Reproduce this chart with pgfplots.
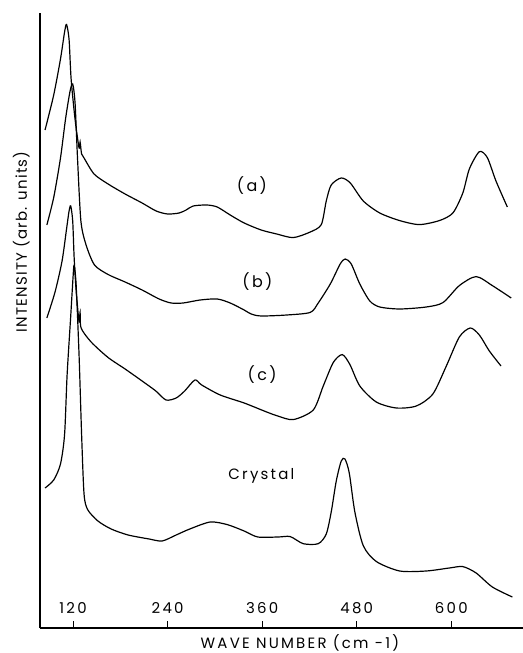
\documentclass[border=0pt]{standalone}
\usepackage{pgfplots}
\pgfplotsset{compat=1.18}
\usepackage{fontspec}
\setmainfont{Poppins}
\newfontfamily\lsfont[LetterSpace=15]{Poppins}
\newfontfamily\lsyfont[LetterSpace=8]{Poppins}
\begin{document}
\begin{tikzpicture}
\begin{axis}[name=ax, scale only axis, width=483bp, height=615bp,
 xmin=78, xmax=691, ymin=0, ymax=615,
 axis x line=bottom, axis y line=left, axis line style={-},
 y axis line style={line width=2.4pt}, x axis line style={line width=1.2pt},
 ytick=\empty, xtick={120,240,360,480,600},
 tick align=inside, major tick length=7bp, xtick style={line width=1pt,black},
 xticklabel style={anchor=south, yshift=11bp, font=\lsfont\fontsize{15}{17}\selectfont},
 /pgf/number format/assume math mode=true,
 clip=false]
% (a)
\addplot[black, line width=1.2pt, smooth, tension=0.45, no markers] coordinates {(84.4,498) (95.4,533) (104.0,569) (109.2,596) (111.7,603.5) (114.9,588.5) (117.5,549) (122.6,508) (127.6,480) (128.9,486) (130.8,474) (133.9,470) (146.6,454) (164.4,444) (186.0,434) (207.6,425) (225.4,417) (240.0,414) (254.6,415) (263.5,418) (272.4,422) (289.6,423) (302.9,421) (319.4,413) (337.1,405) (358.7,398) (378.5,394) (399.4,390.4) (421.0,396) (435.0,403.4) (441.3,427) (447.6,443) (460.3,450) (471.8,445) (488.3,427) (509.2,415) (534.5,407.4) (559.4,403.4) (584.8,407.4) (602.0,415) (614.6,435) (622.9,459) (635.6,476.3) (645.7,470.4) (656.7,447) (671.1,421)};
% (b)
\addplot[black, line width=1.2pt, smooth, tension=0.45, no markers] coordinates {(86.7,403) (95.4,430.5) (104.0,470) (110.5,509.5) (116.2,537) (119.5,544) (122.5,525) (125.6,470) (129.9,407) (136.5,383) (147.2,363) (164.4,353.5) (186.0,346) (207.6,338) (229.2,329) (244.4,325) (259.7,325) (281.3,328) (302.9,329) (319.4,325) (337.1,318) (346.0,314) (358.7,312) (391.3,313) (421.0,315.6) (431.1,325) (446.4,344) (459.0,364) (465.4,369) (473.0,364) (483.9,344) (496.6,327) (509.2,321) (534.5,319) (568.2,321) (589.4,325.4) (610.2,342.4) (631.5,351.4) (652.1,342.4) (676.0,330)};
% (c)
\addplot[black, line width=1.2pt, smooth, tension=0.45, no markers] coordinates {(86.7,310) (97.1,336) (106.0,367) (111.7,399) (114.9,417) (117.0,422) (119.5,407) (121.3,371) (123.8,338) (127.6,306) (128.9,316) (130.2,300) (142.9,286) (164.4,270.5) (186.0,259) (207.6,247) (225.0,237) (237.9,228) (250.8,230) (261.6,237) (274.6,248) (283.2,243) (306.7,233) (337.1,225) (362.5,217) (378.5,212.3) (399.4,208.4) (424.8,218) (437.5,242) (450.2,265.5) (461.6,273.4) (471.3,263.5) (483.9,242) (504.8,226) (530.2,220) (555.6,222) (576.6,234) (593.7,262) (610.2,291) (624.1,300) (635.6,293) (648.3,277) (663.1,262)};
% Crystal
\addplot[black, line width=1.2pt, smooth, tension=0.45, no markers] coordinates {(84.4,140) (95.4,148) (104.0,164) (109.2,193.5) (112.4,253) (117.0,312) (120.0,351.5) (121.3,362.6) (123.8,344) (127.6,272.5) (130.8,193.5) (133.9,134) (138.5,118.4) (151.5,107) (168.3,99) (189.8,93) (216.5,89) (233.0,87) (250.8,93) (268.1,99) (294.0,106) (315.6,103.4) (337.1,97) (354.4,91) (380.3,91) (395.6,91.4) (412.1,84.3) (431.1,84.3) (441.3,94) (447.6,116) (454.0,147) (460.3,167) (465.0,169) (470.5,155) (477.6,116) (488.3,82.3) (504.8,66.5) (534.5,57) (568.2,57) (597.5,60) (614.6,61.4) (631.5,55) (652.1,41) (677.5,31)};
\node[font=\lsfont\fontsize{16}{18}\selectfont] at (axis cs:347,442) {(a)};
\node[font=\lsfont\fontsize{16}{18}\selectfont] at (axis cs:354,346) {(b)};
\node[font=\lsfont\fontsize{16}{18}\selectfont] at (axis cs:360,253) {(c)};
\node[font=\lsfont\fontsize{15}{17}\selectfont] at (axis cs:359,152) {Crystal};
\node[rotate=90, anchor=base, font=\lsyfont\fontsize{15}{17}\selectfont] at ([xshift=-13bp]rel axis cs:0,0.628) {INTENSITY (arb. units)};
\node[anchor=base, font=\lsfont\fontsize{15}{17}\selectfont] at ([yshift=-20bp]rel axis cs:0.538,0) {WAVE NUMBER (cm -1)};
\end{axis}
\pgfresetboundingbox
\path (ax.south west) ++(-40bp,-25bp) rectangle ++(523bp,653bp);
\end{tikzpicture}
\end{document}
